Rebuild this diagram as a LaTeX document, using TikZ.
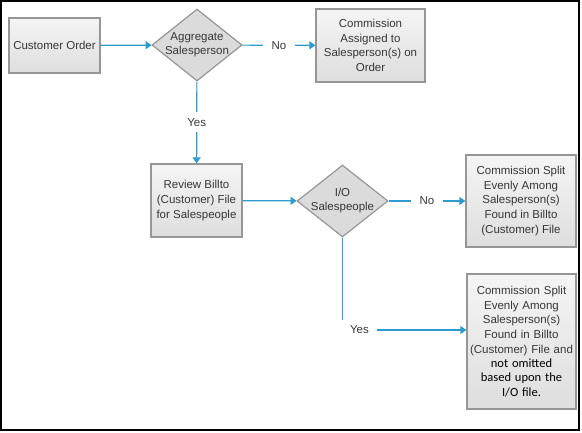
\documentclass[tikz,border=0pt]{standalone}
\usepackage{fontspec}
\setmainfont{Liberation Sans}
\newfontfamily\calfont{Carlito}
\usetikzlibrary{shapes.geometric,arrows.meta}
\definecolor{flowblue}{RGB}{45,155,205}
\definecolor{boxline}{RGB}{150,150,150}
\definecolor{txtgray}{RGB}{55,55,55}
\tikzset{
	box/.style={draw=boxline, line width=1.2pt, top color=gray!8, bottom color=gray!26,
		align=center, inner sep=1pt, text=txtgray, font=\fontsize{11.5}{14.6}\selectfont},
	decision/.style={diamond, draw=boxline, line width=1.2pt, fill=gray!28, inner sep=0pt,
		minimum width=90pt, minimum height=72pt},
	flow/.style={draw=flowblue, line width=1.2pt, -{Triangle[length=6pt,width=8pt]}},
	answer/.style={fill=white, text=txtgray, inner xsep=9pt, inner ysep=5pt,
		font=\fontsize{11.5}{14}\selectfont}
}
\begin{document}
\begin{tikzpicture}[x=1pt,y=-1pt]
	\useasboundingbox (0,0) rectangle (582,433);
	\draw[line width=2pt] (1,1) rectangle (578.5,429.5);
	% first row
	\node[box, minimum width=91pt, minimum height=55pt] (order) at (54.5,45.5) {Customer Order};
	\node[decision, label={[align=center, text=txtgray, font=\fontsize{11.5}{14}\selectfont]center:Aggregate\\Salesperson}] (agg) at (197,45) {};
	\node[box, minimum width=109pt, minimum height=73pt] (assigned) at (370.5,45.5)
		{Commission\\Assigned to\\Salesperson(s) on\\Order};
	% second row
	\node[box, minimum width=91pt, minimum height=73pt] (review) at (196.5,200.5)
		{Review Billto\\(Customer) File\\for Salespeople};
	\node[decision, minimum width=91pt, label={[align=center, text=txtgray, font=\fontsize{11.5}{14}\selectfont]center:I/O\\Salespeople}] (io) at (342.5,201) {};
	\node[box, minimum width=110pt, minimum height=92pt] (even) at (521,201)
		{Commission Split\\Evenly Among\\Salesperson(s)\\Found in Billto\\(Customer) File};
	\node[box, minimum width=109pt, minimum height=135pt, text width=106pt] (omit) at (521.5,341.5)
		{Commission Split\\Evenly Among\\Salesperson(s)\\Found in Billto\\(Customer) File and\\
		{\calfont\fontsize{12.5}{14.2}\selectfont\color{black}not omitted\\based upon the\\I/O file.}};
	% connectors
	\draw[flow] (order) -- (agg);
	\draw[flow] (agg) -- node[answer]{No} (assigned);
	\draw[flow] (agg) -- node[answer, inner ysep=6pt]{Yes} (review);
	\draw[flow] (review) -- (io);
	\draw[flow] (io) -- node[answer]{No} (even);
	\draw[flow] (io.south) |- node[answer, pos=.5, anchor=west, xshift=-1pt, inner xsep=8pt, inner ysep=6pt]{Yes} ([yshift=11.5pt]omit.west);
\end{tikzpicture}
\end{document}
